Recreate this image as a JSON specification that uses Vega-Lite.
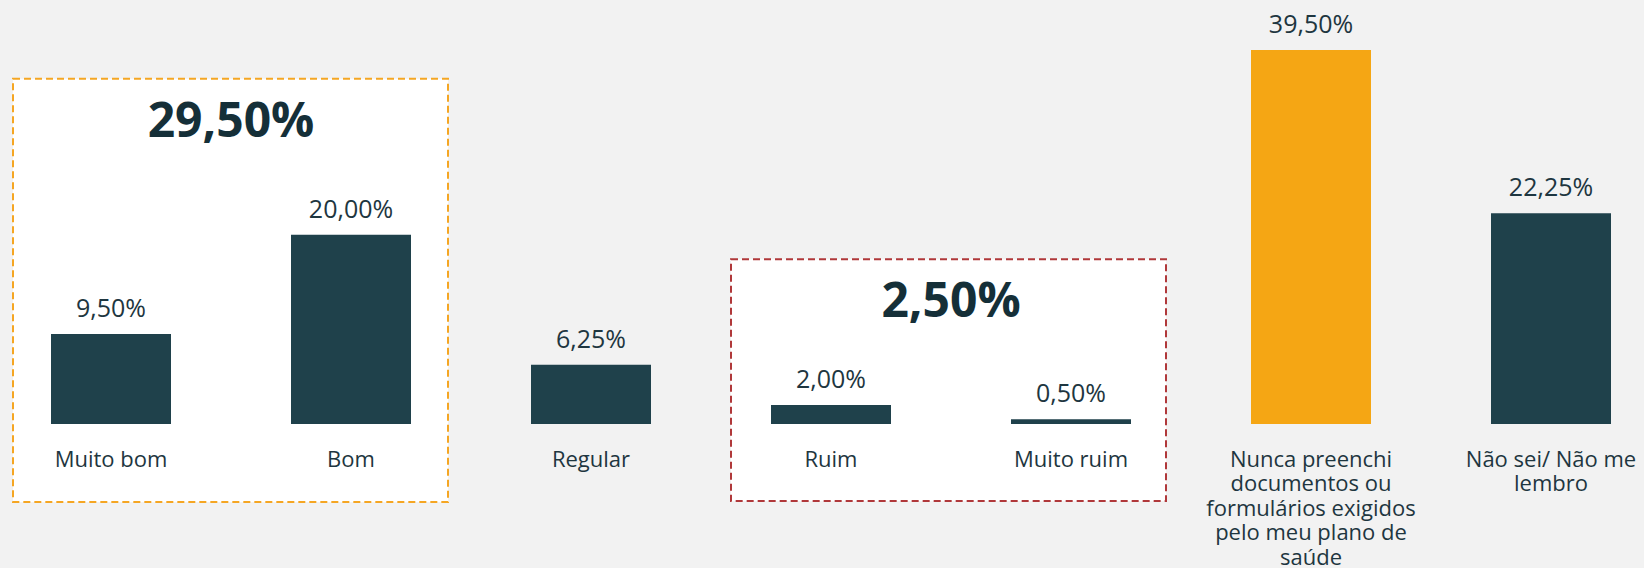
{
  "$schema": "https://vega.github.io/schema/vega-lite/v6.json",
  "width": 1644,
  "height": 424,
  "autosize": {"type": "none"},
  "padding": {"left": 0, "top": 0, "right": 0, "bottom": 144},
  "background": "#F2F2F2",
  "datasets": {
    "bars": [
      {"categoria": "Muito bom", "valor": 9.5, "rotulo": "9,50%", "tipo": "normal"},
      {"categoria": "Bom", "valor": 20.0, "rotulo": "20,00%", "tipo": "normal"},
      {"categoria": "Regular", "valor": 6.25, "rotulo": "6,25%", "tipo": "normal"},
      {"categoria": "Ruim", "valor": 2.0, "rotulo": "2,00%", "tipo": "normal"},
      {"categoria": "Muito ruim", "valor": 0.5, "rotulo": "0,50%", "tipo": "normal"},
      {"categoria": "Nunca preenchi|documentos ou|formulários exigidos|pelo meu plano de|saúde", "valor": 39.5, "rotulo": "39,50%", "tipo": "destaque"},
      {"categoria": "Não sei/ Não me|lembro", "valor": 22.25, "rotulo": "22,25%", "tipo": "normal"}
    ],
    "positivo": [
      {"categoria": "Muito bom", "total": 29.5, "rotulo": "29,50%"}
    ],
    "negativo": [
      {"categoria": "Ruim", "total": 2.5, "rotulo": "2,50%"}
    ]
  },
  "encoding": {
    "x": {
      "field": "categoria", "type": "nominal", "sort": null,
      "scale": {
        "domain": ["Muito bom", "Bom", "Regular", "Ruim", "Muito ruim", "Nunca preenchi|documentos ou|formulários exigidos|pelo meu plano de|saúde", "Não sei/ Não me|lembro"],
        "range": [51, 1611], "paddingInner": 0.5, "paddingOuter": 0
      },
      "axis": {
        "title": null, "domain": false, "ticks": false, "grid": false, "zindex": 1,
        "labelAngle": 0, "labelFont": "Open Sans", "labelFontSize": 22, "labelColor": "#1E3640",
        "labelPadding": 25, "labelLineHeight": 24.5, "labelBaseline": "top", "labelLimit": 400,
        "labelOverlap": false,
        "labelExpr": "split(datum.value, '|')"
      }
    }
  },
  "layer": [
    {
      "data": {"name": "positivo"},
      "mark": {"type": "bar", "fill": "white", "stroke": "#F5A623", "strokeWidth": 2, "strokeDash": [7, 4], "width": {"band": 3.625}, "xOffset": 119.5, "yOffset": -66, "y2Offset": 78},
      "encoding": {
        "y": {"field": "total", "type": "quantitative", "scale": {"domain": [0, 44.78], "nice": false, "zero": true}, "axis": null},
        "y2": {"datum": 0}
      }
    },
    {
      "data": {"name": "negativo"},
      "mark": {"type": "bar", "fill": "white", "stroke": "#B0383A", "strokeWidth": 2, "strokeDash": [7, 4], "width": {"band": 3.625}, "xOffset": 117.5, "yOffset": -141, "y2Offset": 77},
      "encoding": {
        "y": {"field": "total", "type": "quantitative"},
        "y2": {"datum": 0}
      }
    },
    {
      "data": {"name": "bars"},
      "mark": {"type": "bar"},
      "encoding": {
        "y": {"field": "valor", "type": "quantitative"},
        "color": {
          "field": "tipo", "type": "nominal",
          "scale": {"domain": ["normal", "destaque"], "range": ["#1F414B", "#F5A614"]},
          "legend": null
        }
      }
    },
    {
      "data": {"name": "bars"},
      "mark": {"type": "text", "font": "Open Sans", "fontSize": 25, "color": "#1E3640", "baseline": "alphabetic", "align": "center", "dy": -17},
      "encoding": {
        "y": {"field": "valor", "type": "quantitative"},
        "text": {"field": "rotulo", "type": "nominal"}
      }
    },
    {
      "data": {"name": "positivo"},
      "mark": {"type": "text", "font": "Open Sans", "fontSize": 48, "fontWeight": "bold", "color": "#152F38", "baseline": "alphabetic", "align": "center", "dx": 120, "dy": -8},
      "encoding": {
        "y": {"field": "total", "type": "quantitative"},
        "text": {"field": "rotulo", "type": "nominal"}
      }
    },
    {
      "data": {"name": "negativo"},
      "mark": {"type": "text", "font": "Open Sans", "fontSize": 48, "fontWeight": "bold", "color": "#152F38", "baseline": "alphabetic", "align": "center", "dx": 120, "dy": -83},
      "encoding": {
        "y": {"field": "total", "type": "quantitative"},
        "text": {"field": "rotulo", "type": "nominal"}
      }
    }
  ],
  "config": {
    "view": {"stroke": null}
  }
}
